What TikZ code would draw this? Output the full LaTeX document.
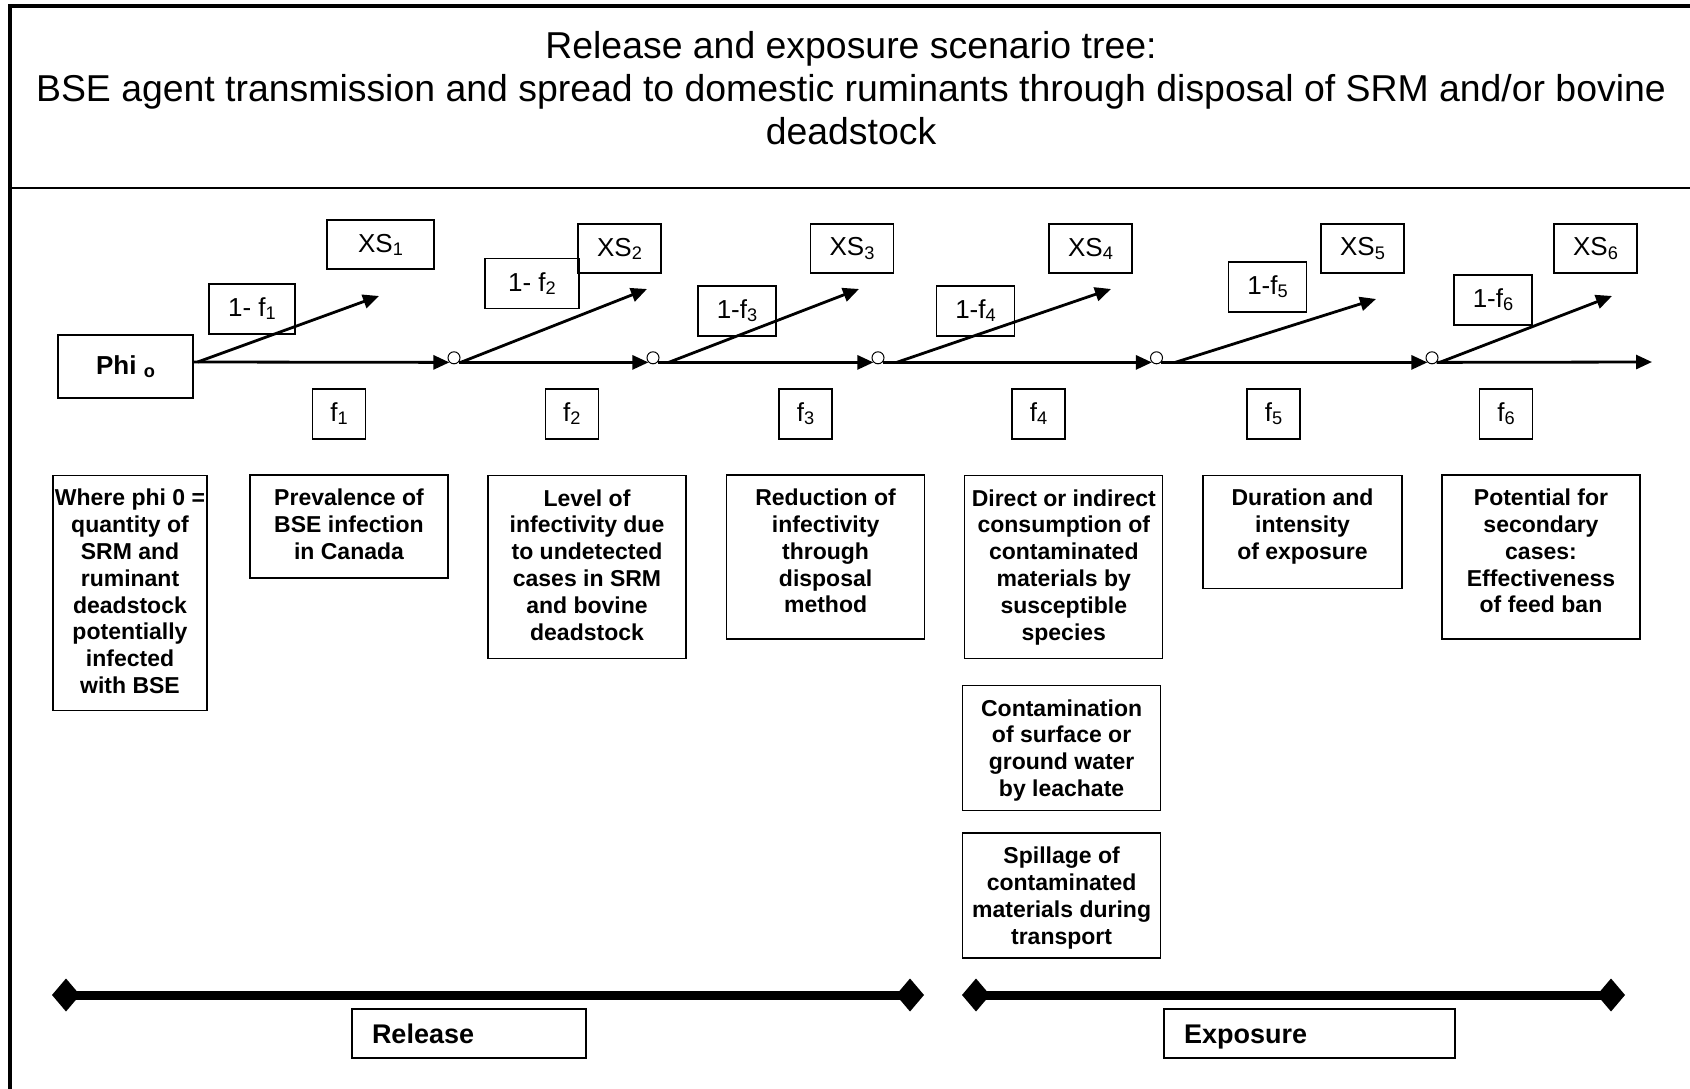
\documentclass[tikz,border=0pt]{standalone}
\usepackage{fontspec}
\setmainfont{Liberation Sans}
\usetikzlibrary{arrows.meta}
\newcommand{\lo}[1]{\raisebox{-0.12em}{\scalebox{0.7}{#1}}}

\begin{document}
\begin{tikzpicture}[x=1pt,y=-1pt,
  labelbox/.style={draw,line width=1.3pt,inner sep=0pt,minimum height=49pt,font=\fontsize{26}{30}\selectfont},
  descbox/.style 2 args={draw,line width=1.3pt,inner sep=0pt,font=\bfseries\fontsize{23}{26.8}\selectfont,
    execute at begin node={\begin{minipage}[c][#2][t]{#1}\centering\vspace*{14pt}},
    execute at end node={\end{minipage}}},
  phasebox/.style={draw,line width=1.3pt,inner xsep=20pt,inner ysep=0pt,minimum height=49pt,text height=20pt,text depth=0pt,align=left,font=\bfseries\fontsize{27}{30}\selectfont},
  junction/.style={circle,draw,line width=1pt,minimum size=12pt,inner sep=0pt},
  flow/.style={line width=2.8pt,-{Triangle[length=16pt,width=14pt]}},
  phasebar/.style={line width=9pt,{Diamond[length=28pt,width=33pt]}-{Diamond[length=28pt,width=33pt]}}]
  \useasboundingbox (0,0) rectangle (1690,1089);
  \draw[line width=3.5pt] (10,1089) -- (10,6) -- (1690,6);
  \draw[line width=2pt] (10,188) -- (1690,188);
  \node[align=center,font=\fontsize{37.4}{43}\selectfont] (title) at (851,88)
    {Release and exposure scenario tree:\\BSE agent transmission and spread to domestic ruminants through disposal of SRM and/or bovine\\deadstock};

  \node[labelbox,minimum width=135pt,minimum height=63pt,font=\bfseries\fontsize{26}{30}\selectfont] (phi) at (125.5,366.5) {Phi \lo{o}};
  \foreach \n/\x in {1/454,2/653,3/878,4/1156.5,5/1432}
    \node[junction] (j\n) at (\x,357.8) {};
  \foreach \n/\x/\y/\w in {1/380.5/244.5/107,2/619.5/248.5/83,3/852/248.5/83,4/1090.5/248.5/83,5/1362.5/248.5/83,6/1595.5/248.5/83}
    \node[labelbox,minimum width=\w pt] (xs\n) at (\x,\y) {XS\lo{\n}};
  \foreach \n/\x/\y/\w/\lab in {1/252/309/86/{1- f},2/532/283.5/94/{1- f},3/737/311/78/1-f,4/975.5/311/78/1-f,5/1267.5/287/78/1-f,6/1493/300/78/1-f}
    \node[labelbox,minimum width=\w pt,minimum height=50pt] (nf\n) at (\x,\y) {\lab\lo{\n}};
  \foreach \n/\x in {1/339,2/571.7,3/805.6,4/1038.6,5/1273.5,6/1506}
    \node[labelbox,minimum width=53pt,minimum height=50pt] (f\n) at (\x,414) {f\lo{\n}};

  \foreach \n/\x/\y in {1/379/296,2/647/289,3/859/289,4/1111/289,5/1376/299,6/1612/296}
    \coordinate (t\n) at (\x,\y);
  \coordinate (out) at (1652,362);
  \draw[flow] ([yshift=4.5pt]phi.east) -- (j1.south west);
  \foreach \a/\b in {1/2,2/3,3/4,4/5}
    \draw[flow] (j\a.south east) -- (j\b.south west);
  \draw[flow] (j5.south east) -- (out);
  \draw[flow] ([xshift=4pt,yshift=4.5pt]phi.east) -- (t1);
  \foreach \a/\b/\dx in {1/2/2,2/3/11,3/4/14,4/5/14,5/6/3}
    \draw[flow] ([xshift=\dx pt]j\a.south east) -- (t\b);

  \node[descbox={154pt}{235pt}] (d0) at (130,592.7)
    {\mbox{Where phi 0 =}\\quantity of\\SRM and\\ruminant\\deadstock\\potentially\\infected\\with BSE};
  \node[descbox={198pt}{103pt}] (d1) at (349,526.5)
    {Prevalence of\\BSE infection\\in Canada};
  \node[descbox={198pt}{183pt}] (d2) at (587,567)
    {Level of\\infectivity due\\to undetected\\cases in SRM\\and bovine\\deadstock};
  \node[descbox={198pt}{164pt}] (d3) at (825.6,557)
    {Reduction of\\infectivity\\through\\disposal\\method};
  \node[descbox={198pt}{183pt}] (d4) at (1063.8,567)
    {Direct or indirect\\consumption of\\contaminated\\materials by\\susceptible\\species};
  \node[descbox={198pt}{125pt}] (d4b) at (1061.6,748)
    {Contamination\\of surface or\\ground water\\by leachate};
  \node[descbox={198pt}{125pt}] (d4c) at (1061.6,895.6)
    {Spillage of\\contaminated\\materials during\\transport};
  \node[descbox={199pt}{113pt}] (d5) at (1302.5,531.8)
    {Duration and\\intensity\\of exposure};
  \node[descbox={198pt}{164pt}] (d6) at (1541,557)
    {Potential for\\secondary\\cases:\\Effectiveness\\of feed ban};

  \coordinate (rl) at (52,995);
  \coordinate (rr) at (924,995);
  \coordinate (el) at (962,995);
  \coordinate (er) at (1625,995);
  \draw[phasebar] (rl) -- (rr);
  \draw[phasebar] (el) -- (er);
  \node[phasebox,text width=194pt] (rel) at (469,1033.5) {Release};
  \node[phasebox,text width=251pt] (exp) at (1309.5,1033.5) {Exposure};
\end{tikzpicture}
\end{document}
